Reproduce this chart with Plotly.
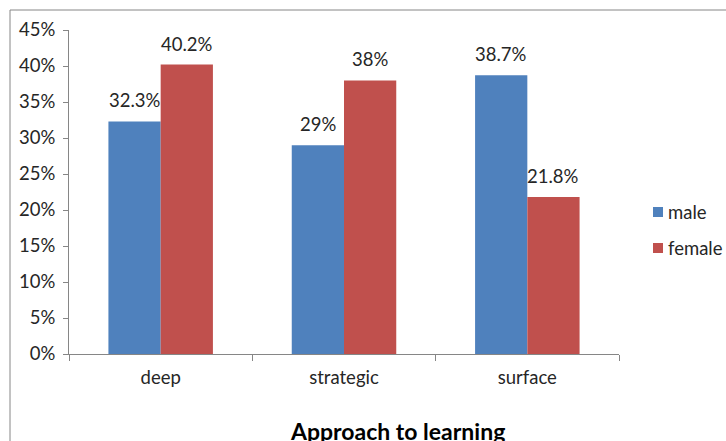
import plotly.graph_objects as go

# Share of students by approach to learning, split by gender
categories = ["deep", "strategic", "surface"]
male = [32.3, 29, 38.7]
female = [40.2, 38, 21.8]
series_names = ["male", "female"]
y_ticks = [0, 5, 10, 15, 20, 25, 30, 35, 40, 45]
y_tick_labels = [f"{v}%" for v in y_ticks]

BLUE = "#4F81BD"
RED = "#C0504D"
TEXT = "#262626"
AXIS = "#868686"
FONT = "Lato, Open Sans, sans-serif"
FS = 18.5

W, H = 726, 441
L, R, T, B = 69, 107, 30, 87
pw, ph = W - L - R, H - T - B


def px_x(p):
    return (p - L) / pw


def px_y(p):
    return (H - B - p) / ph


fig = go.Figure()
for name, vals, col in ((series_names[0], male, BLUE), (series_names[1], female, RED)):
    fig.add_trace(go.Bar(name=name, x=categories, y=vals, marker_color=col,
                         marker_line_width=0, showlegend=False))

# value labels above each bar
for i, cat in enumerate(categories):
    for vals, off in ((male, -0.5), (female, 0.5)):
        v = vals[i]
        fig.add_annotation(
            x=i, y=v, xref="x", yref="y", text=f"{v:g}%", showarrow=False,
            xshift=off * 52, yshift=21, yanchor="middle",
            font=dict(family=FONT, size=FS, color=TEXT),
        )

# axis title under the categories
fig.add_annotation(
    x=px_x(397), y=px_y(431), xref="paper", yref="paper",
    text="<b>Approach to learning</b>", showarrow=False,
    xanchor="center", yanchor="middle",
    font=dict(family=FONT, size=23, color="#000000"),
)

# legend drawn beside the plot area
for k, (name, col) in enumerate(zip(series_names, (BLUE, RED))):
    cy = 212 + 36 * k
    fig.add_shape(type="rect", xref="paper", yref="paper",
                  x0=px_x(653), x1=px_x(663), y0=px_y(cy + 5), y1=px_y(cy - 5),
                  fillcolor=col, line=dict(width=0))
    fig.add_annotation(x=px_x(666), y=px_y(cy), xref="paper", yref="paper",
                       text=name, showarrow=False, xanchor="left", yanchor="middle",
                       font=dict(family=FONT, size=FS, color=TEXT))

# chart area frame
fig.add_shape(type="rect", xref="paper", yref="paper",
              x0=px_x(10), x1=px_x(790), y0=px_y(460), y1=px_y(10),
              line=dict(color=AXIS, width=1), fillcolor="rgba(0,0,0,0)",
              layer="below")

fig.update_layout(
    width=W, height=H,
    margin=dict(l=L, r=R, t=T, b=B, autoexpand=False),
    paper_bgcolor="white", plot_bgcolor="white",
    barmode="group", bargap=0.43, bargroupgap=0,
    font=dict(family=FONT, size=FS, color=TEXT),
    showlegend=False,
)
fig.update_xaxes(
    showline=True, linecolor=AXIS, linewidth=1,
    ticks="outside", ticklen=6, tickcolor=AXIS, tickson="boundaries",
    showgrid=False, tickfont=dict(family=FONT, size=FS, color=TEXT),
    ticklabelstandoff=7, automargin=False,
)
fig.update_yaxes(
    range=[0, 45], tickvals=y_ticks, ticktext=y_tick_labels,
    showline=True, linecolor=AXIS, linewidth=1,
    ticks="outside", ticklen=5, tickcolor=AXIS,
    showgrid=False, zeroline=False, automargin=False,
    tickfont=dict(family=FONT, size=FS, color=TEXT), ticklabelstandoff=4,
)

fig.write_html("out.html")
